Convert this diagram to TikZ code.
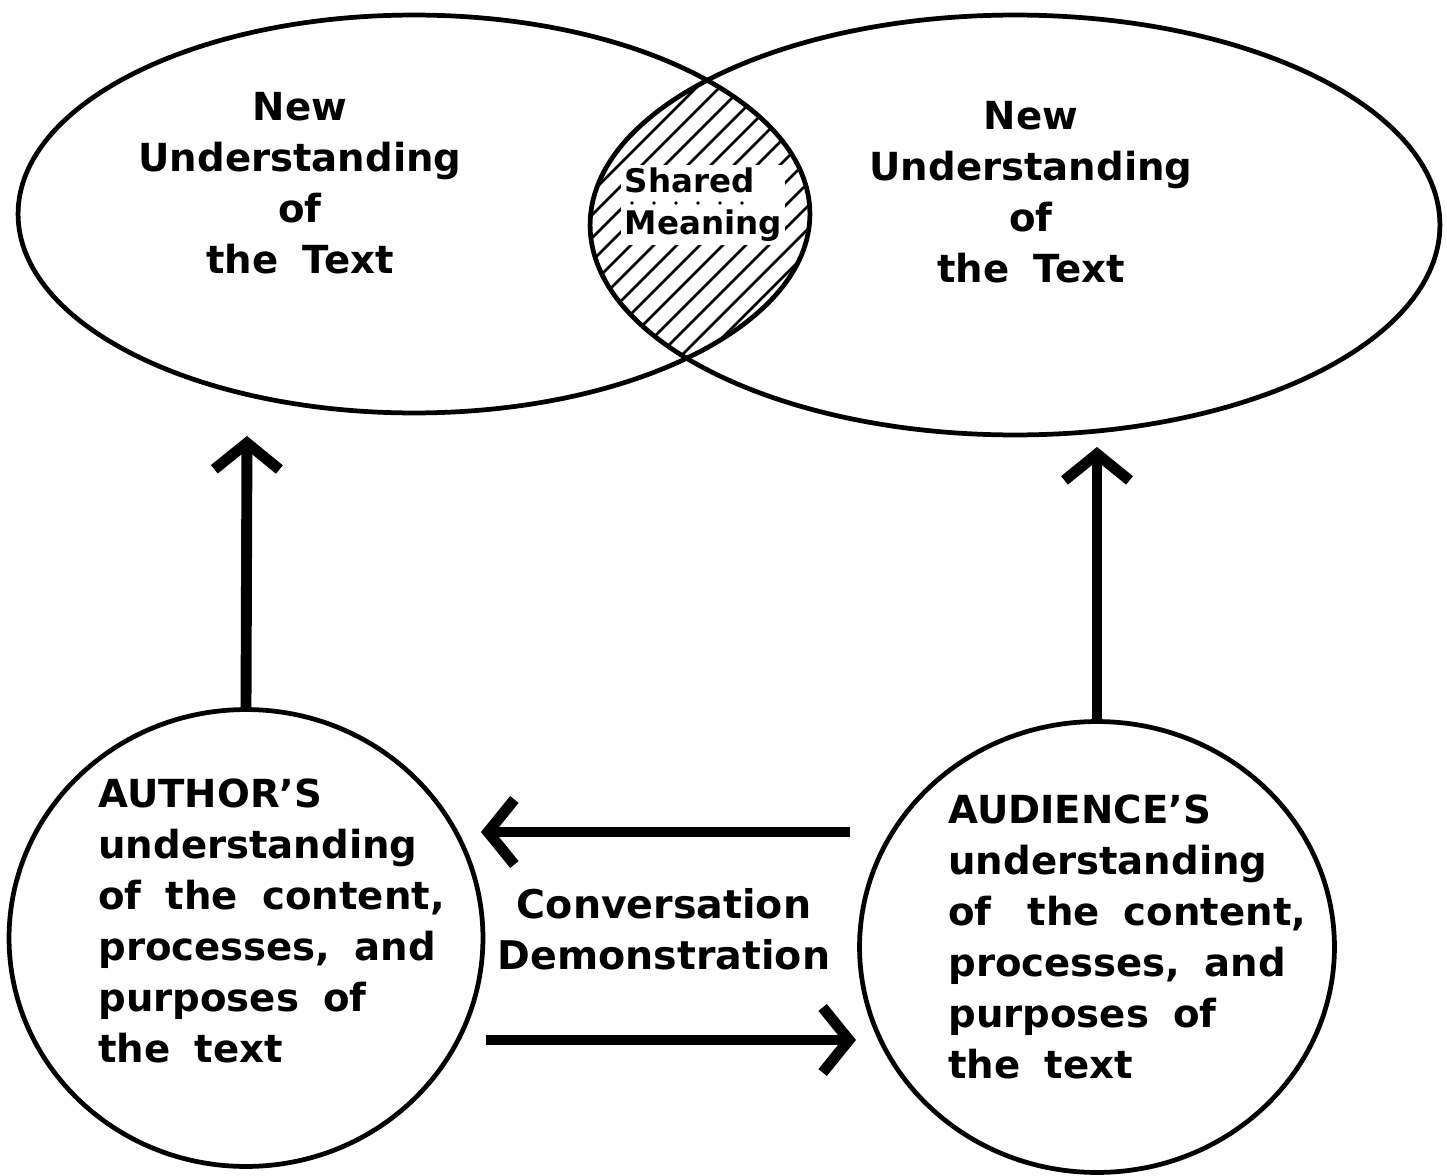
\documentclass[tikz,border=0pt]{standalone}
\usepackage{fontspec}
\setmainfont{DejaVu Sans}[WordSpace=1.8]
\usetikzlibrary{arrows.meta,shapes.geometric}
\begin{document}
\begin{tikzpicture}[x=0.02cm,y=-0.02cm,
  oval/.style={draw, ellipse, line width=2.7pt, inner sep=0pt},
  lbl/.style={font=\fontsize{22}{29}\selectfont\bfseries, inner sep=0pt},
  hatchline/.style={line width=1.6pt},
  bigarrow/.style={line width=6.2pt, -{Straight Barb[length=15pt,width=37pt]}},
]
\useasboundingbox (0,0) rectangle (1447,1176);
% hatched shared region
\begin{scope}
  \clip (414,214) ellipse [x radius=7.92cm, y radius=3.98cm];
  \clip (1015,225) ellipse [x radius=8.5cm, y radius=4.2cm];
  \foreach \c in {600,623,...,1220} \draw[hatchline] (\c-420,420) -- (\c-40,40);
\end{scope}
\node[lbl, font=\fontsize{18.5}{24}\selectfont\bfseries, fill=white, align=left, anchor=west, inner sep=2pt] (shared) at (621,205) {Shared\\Meaning};
\foreach \i in {0,...,5} \fill (632+22*\i,203) circle[radius=1.1pt];
% ellipses
\node[oval, minimum width=15.84cm, minimum height=7.96cm] (ovL) at (414,214) {};
\node[oval, minimum width=17cm, minimum height=8.4cm] (ovR) at (1015,225) {};
% circles
\node[oval, minimum width=9.48cm, minimum height=9.14cm] (cirL) at (246,938) {};
\node[oval, minimum width=9.5cm, minimum height=9.02cm] (cirR) at (1097,947) {};
% texts
\node[lbl, align=center] (txL) at (300,183) {New\\Understanding\\of\\the Text};
\node[lbl, align=center] (txR) at (1031,192) {New\\Understanding\\of\\the Text};
\node[lbl, align=left, anchor=west] (auth) at (98,921) {AUTHOR'S\\understanding\\of the content,\\processes, and\\purposes of\\the text};
\node[lbl, align=left, anchor=west] (aud) at (948,937) {AUDIENCE'S\\understanding\\of\hspace{0.3em} the content,\\processes, and\\purposes of\\the text};
\node[lbl, font=\fontsize{22.5}{29}\selectfont\bfseries, align=center] (conv) at (664,929) {Conversation\\Demonstration};
% arrows
\coordinate (tipL) at (247,436);
\coordinate (tipR) at (1097,447);
\draw[bigarrow] (cirL.north) -- (tipL);
\draw[bigarrow] (cirR.north) -- (tipR);
\coordinate (a1s) at (850,832);
\coordinate (a1e) at (481,832);
\coordinate (a2s) at (486,1040);
\coordinate (a2e) at (856,1040);
\draw[bigarrow] (a1s) -- (a1e);
\draw[bigarrow] (a2s) -- (a2e);
\end{tikzpicture}
\end{document}
